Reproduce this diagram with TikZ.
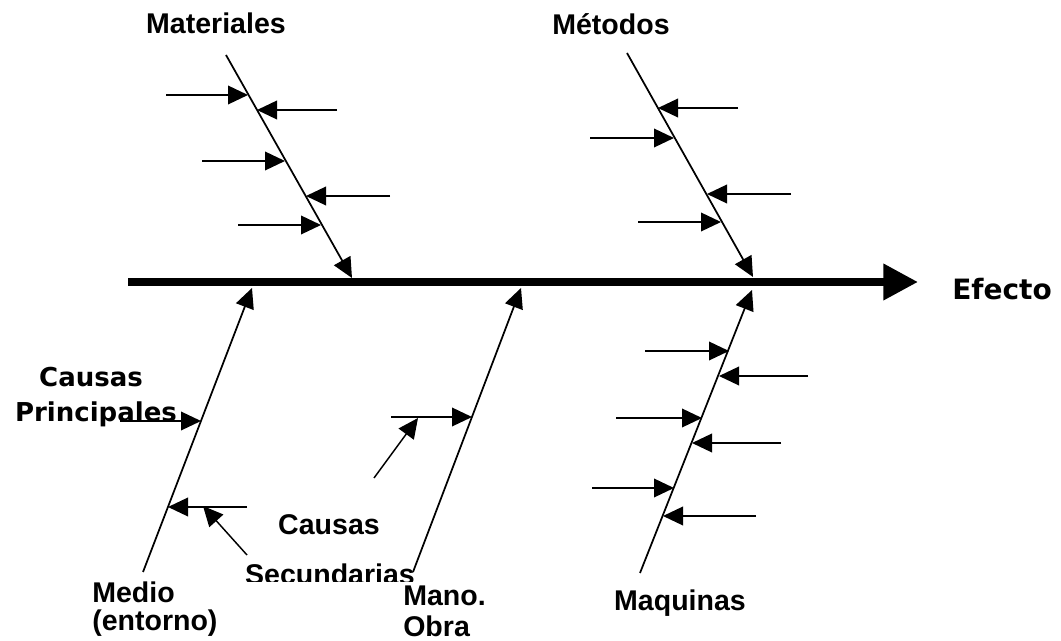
\documentclass[tikz,border=0pt]{standalone}
\usepackage{fontspec}
\setmainfont{Liberation Sans}
\newfontfamily\tahfont{DejaVu Sans}
\usetikzlibrary{arrows.meta}

\begin{document}
\begin{tikzpicture}[
    x=0.75pt, y=-0.75pt,
    lbl/.style={font=\bfseries\fontsize{21.4}{24}\selectfont, inner sep=0pt, anchor=base},
    lblleft/.style={lbl, anchor=base west},
    lbltah/.style={lbl, font=\tahfont\bfseries\fontsize{19.5}{24}\selectfont},
    spine/.style={line width=6pt, -{Triangle[length=26pt, width=26pt]}},
    bone/.style={line width=1.3pt, -{Triangle[length=15pt, width=14pt]}},
    sub/.style={line width=1.1pt, -{Triangle[length=15pt, width=14pt]}},
]
\useasboundingbox (0,0) rectangle (1061,641);

% Spine
\coordinate (tail) at (128,282);
\coordinate (head) at (918,282);
\draw[spine] (tail) -- (head);
\node[lbltah, font=\tahfont\bfseries\fontsize{21}{24}\selectfont] (efecto) at (1002,300) {Efecto};

% --- Materiales ---
\node[lbl] (materiales) at (216,34) {Materiales};
\coordinate (matT) at (226,55);
\coordinate (matH) at (352,278);
\draw[bone] (matT) -- (matH);
\foreach \sx/\ex/\yy [count=\i] in {166/248/95, 337/257/110, 202/285/161, 390/306/196, 238/321/225} {
  \coordinate (mats\i) at (\sx,\yy);
  \coordinate (mate\i) at (\ex,\yy);
  \draw[sub] (mats\i) -- (mate\i);
}

% --- Metodos ---
\node[lbl] (metodos) at (611,35) {Métodos};
\coordinate (metT) at (627,53);
\coordinate (metH) at (753,277);
\draw[bone] (metT) -- (metH);
\foreach \sx/\ex/\yy [count=\i] in {738/658/108, 590/674/138, 791/707/194, 638/721/222} {
  \coordinate (mets\i) at (\sx,\yy);
  \coordinate (mete\i) at (\ex,\yy);
  \draw[sub] (mets\i) -- (mete\i);
}

% --- Maquinas ---
\node[lbl] (maquinas) at (680,610) {Maquinas};
\coordinate (maqT) at (640,573);
\coordinate (maqH) at (752,290);
\draw[bone] (maqT) -- (maqH);
\foreach \sx/\ex/\yy [count=\i] in {645/729/351, 808/719/376, 616/702/418, 781/692/443, 592/674/488, 756/663/516} {
  \coordinate (maqs\i) at (\sx,\yy);
  \coordinate (maqe\i) at (\ex,\yy);
  \draw[sub] (maqs\i) -- (maqe\i);
}

% --- Medio ---
\node[lblleft] (medio) at (92,603) {Medio};
\node[lblleft] (entorno) at (92,630) {(entorno)};
\coordinate (medT) at (143,572);
\coordinate (medH) at (252,288);
\draw[bone] (medT) -- (medH);
\coordinate (meds1) at (120,421);
\coordinate (mede1) at (201,421);
\coordinate (meds2) at (247,507);
\coordinate (mede2) at (168,507);
\coordinate (meds3) at (247,555);
\coordinate (mede3) at (203,506);
\draw[sub] (meds1) -- (mede1);
\draw[sub] (meds2) -- (mede2);
\draw[sub] (meds3) -- (mede3);
\node[lbltah] (causasP) at (91,387) {Causas};
\node[lbltah] (principales) at (96,422) {Principales};

% --- Mano Obra ---
\node[lblleft] (mano) at (403,605) {Mano.};
\node[lblleft] (obra) at (403,636) {Obra};
\coordinate (manT) at (413,572);
\coordinate (manH) at (521,288);
\draw[bone] (manT) -- (manH);
\coordinate (mans1) at (391,417);
\coordinate (mane1) at (472,417);
\coordinate (mans2) at (374,478);
\coordinate (mane2) at (418,418);
\draw[sub] (mans1) -- (mane1);
\draw[sub] (mans2) -- (mane2);

% Causas secundarias (cut off at the bottom)
\node[lbl] (causasS) at (329,535) {Causas};
\begin{scope}
  \clip (200,540) rectangle (450,581);
  \node[lbl] (secundarias) at (330,585) {Secundarias};
\end{scope}

\end{tikzpicture}
\end{document}
